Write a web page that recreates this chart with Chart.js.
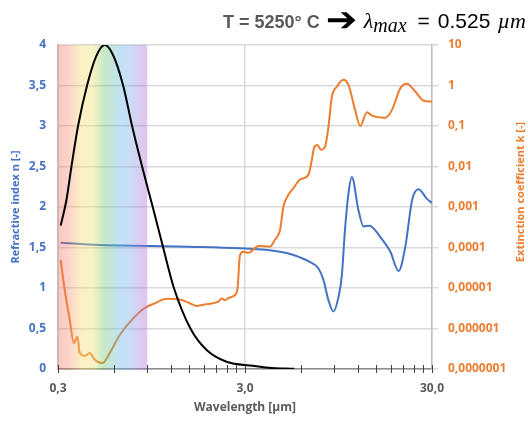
<!DOCTYPE html>
<html>
<head>
<meta charset="utf-8">
<script src="https://cdn.jsdelivr.net/npm/chart.js@4.4.1/dist/chart.umd.min.js"></script>
<style>
  body { margin: 0; background: #fff; }
  #wrap { position: relative; width: 528px; height: 421px; }
  #hdr { position: absolute; top: 4px; right: 2px; white-space: nowrap; line-height: 30px; height: 30px; }
  #hdr .t { font: bold 18px "Liberation Sans", Arial, sans-serif; color: #595959; }
  #hdr .arr { display: inline-block; width: 25px; text-align: center; transform: scale(1.45, 1.3); font: bold 26px "DejaVu Sans", sans-serif; color: #000; margin: 0 10px 0 9px; }
  #hdr .m { font: italic 22px "Liberation Serif", "DejaVu Serif", serif; color: #000; }
  #hdr .n { font: 21px "Liberation Sans", Arial, sans-serif; color: #000; }
  #hdr .eq { margin: 0 8px 0 11px; }
  #hdr .u { margin-left: 7px; }
  #hdr sub { font-size: 20px; vertical-align: -4px; line-height: 0; }
</style>
</head>
<body>
<div id="wrap">
  <canvas id="chart" width="528" height="421"></canvas>
  <div id="hdr"><span class="t">T = 5250° C</span><span class="arr">➔</span><span class="m">λ<sub>max</sub></span><span class="n eq">=</span><span class="n">0.525</span><span class="m u">µm</span></div>
</div>
<script>
// blackbody curve (scaled to the left axis)
const blackWl = [0.31, 0.333, 0.354, 0.384, 0.429, 0.48, 0.533, 0.59, 0.669, 0.747, 0.845, 0.968, 1.095, 1.25, 1.54, 1.87, 2.39, 3.31, 4.0, 5.5];
const blackVal = [1.77, 2.09, 2.5, 3.0, 3.5, 3.86, 4.0, 3.88, 3.5, 3.0, 2.5, 1.98, 1.5, 1.0, 0.49, 0.235, 0.09, 0.04, 0.015, 0.002];

// refractive index n
const nWl = [0.31, 0.5, 0.95, 1.5, 2.82, 4.25, 5.23, 6.42, 7.41, 7.88, 8.38, 8.91, 9.49, 9.88, 10.3, 10.73, 11.18, 12.13, 12.91, 13.9, 15.86, 17.95, 19.86, 21.6, 23.5, 25.4, 28.2, 30];
const nVal = [1.56, 1.53, 1.52, 1.51, 1.49, 1.46, 1.42, 1.34, 1.24, 1.10, 0.85, 0.71, 0.89, 1.15, 1.75, 2.17, 2.37, 1.96, 1.76, 1.77, 1.63, 1.45, 1.21, 1.51, 2.09, 2.22, 2.10, 2.05];

// extinction coefficient k
const kWl = [0.31, 0.326, 0.347, 0.365, 0.381, 0.392, 0.417, 0.444, 0.472, 0.519, 0.568, 0.642, 0.742, 0.873, 0.989, 1.142, 1.346, 1.52, 1.66, 1.87, 2.16, 2.25, 2.35, 2.44, 2.6, 2.73, 2.82, 2.94, 3.13, 3.47, 3.61, 4.08, 4.34, 4.62, 4.81, 5.12, 5.44, 5.92, 6.55, 6.83, 7.03, 7.32, 7.63, 8.04, 8.38, 8.74, 9.29, 10.08, 10.73, 11.64, 12.39, 13.47, 14.32, 16.87, 18.33, 20.3, 22.0, 24.4, 27.1, 30];
const kVal = [4.9e-5, 8.9e-6, 1.6e-6, 4.3e-7, 6.3e-7, 2.5e-7, 2.1e-7, 2.5e-7, 1.7e-7, 1.4e-7, 2.5e-7, 6.9e-7, 1.6e-6, 3.2e-6, 4.2e-6, 5.4e-6, 5.2e-6, 4.2e-6, 3.6e-6, 4.0e-6, 4.6e-6, 5.5e-6, 5.0e-6, 5.6e-6, 6.3e-6, 8.9e-6, 6.5e-5, 7.9e-5, 7.4e-5, 1.05e-4, 1.1e-4, 1.05e-4, 1.55e-4, 2.7e-4, 1.0e-3, 2.0e-3, 2.9e-3, 4.8e-3, 6.2e-3, 1.45e-2, 2.95e-2, 3.4e-2, 2.6e-2, 3.1e-2, 9.5e-2, 0.52, 0.93, 1.38, 1.02, 0.25, 0.10, 0.22, 0.18, 0.16, 0.25, 0.85, 1.1, 0.71, 0.42, 0.40];

// axis ticks
const xTicks = [0.3, 0.6, 0.9, 1.2, 1.5, 1.8, 2.1, 2.4, 2.7, 3, 6, 9, 12, 15, 18, 21, 24, 27, 30];
const xLabels = { 0.3: '0,3', 3: '3,0', 30: '30,0' };
const kTicks = [1e-7, 1e-6, 1e-5, 1e-4, 1e-3, 1e-2, 1e-1, 1, 10];
const kLabels = ['0,0000001', '0,000001', '0,00001', '0,0001', '0,001', '0,01', '0,1', '1', '10'];
const visibleBand = [0.3, 0.9];

const BLUE = '#4472C4', ORANGE = '#ED7D31', GREY = '#595959', GRID = '#d9d9d9';
const FONT = '"Open Sans", "Liberation Sans", sans-serif';

const toPoints = (xs, ys) => xs.map((x, i) => ({ x: x, y: ys[i] }));

// rainbow band over the visible range, drawn above n and k but under the black curve
const spectrumPlugin = {
  id: 'spectrum',
  afterDatasetDraw(chart, args) {
    if (args.index !== 2) return;
    const { ctx, chartArea, scales } = chart;
    const x0 = scales.x.getPixelForValue(visibleBand[0]);
    const x1 = scales.x.getPixelForValue(visibleBand[1]);
    const g = ctx.createLinearGradient(x0, 0, x1, 0);
    g.addColorStop(0, 'rgba(245,105,90,0.36)');
    g.addColorStop(0.1, 'rgba(245,120,95,0.34)');
    g.addColorStop(0.25, 'rgba(248,215,110,0.40)');
    g.addColorStop(0.38, 'rgba(245,225,110,0.40)');
    g.addColorStop(0.52, 'rgba(110,200,115,0.40)');
    g.addColorStop(0.7, 'rgba(110,185,235,0.42)');
    g.addColorStop(0.8, 'rgba(120,170,230,0.40)');
    g.addColorStop(0.95, 'rgba(170,120,215,0.40)');
    g.addColorStop(1, 'rgba(170,120,215,0.40)');
    ctx.save();
    ctx.fillStyle = g;
    ctx.fillRect(x0, chartArea.top, x1 - x0, chartArea.bottom - chartArea.top + 1);
    ctx.restore();
  }
};

const axisDecor = {
  id: 'axisDecor',
  afterDraw(chart) {
    const { ctx, chartArea, scales } = chart;
    ctx.save();
    // x tick marks crossing the axis line
    ctx.strokeStyle = '#404040';
    ctx.lineWidth = 1;
    xTicks.forEach(v => {
      const px = Math.round(scales.x.getPixelForValue(v)) + 0.5;
      ctx.beginPath();
      ctx.moveTo(px, chartArea.bottom - 4);
      ctx.lineTo(px, chartArea.bottom + 4);
      ctx.stroke();
    });
    // right axis title, reading bottom to top
    ctx.fillStyle = ORANGE;
    ctx.font = 'bold 11px ' + FONT;
    ctx.textAlign = 'center';
    ctx.textBaseline = 'middle';
    ctx.translate(521, 192);
    ctx.rotate(-Math.PI / 2);
    ctx.fillText('Extinction coefficient k [-]', 0, 0);
    ctx.restore();
  }
};

new Chart(document.getElementById('chart'), {
  type: 'line',
  data: {
    datasets: [
      {
        label: 'Blackbody',
        data: toPoints(blackWl, blackVal),
        borderColor: '#000000',
        borderWidth: 2,
        yAxisID: 'y',
        order: 1
      },
      {
        label: 'n',
        data: toPoints(nWl, nVal),
        borderColor: BLUE,
        borderWidth: 2,
        yAxisID: 'y',
        order: 3
      },
      {
        label: 'k',
        data: toPoints(kWl, kVal),
        borderColor: ORANGE,
        borderWidth: 2,
        yAxisID: 'y1',
        order: 2
      }
    ]
  },
  options: {
    responsive: false,
    animation: false,
    layout: { padding: { top: 45 } },
    elements: {
      point: { radius: 0 },
      line: { cubicInterpolationMode: 'monotone', fill: false }
    },
    plugins: { legend: { display: false }, tooltip: { enabled: false } },
    scales: {
      x: {
        type: 'logarithmic',
        min: 0.3,
        max: 30,
        afterBuildTicks: s => { s.ticks = xTicks.map(v => ({ value: v })); },
        afterFit: s => { s.height = 52; },
        grid: {
          color: c => (c.tick && xLabels[c.tick.value]) ? GRID : 'rgba(0,0,0,0)',
          lineWidth: 1.5,
          drawTicks: false
        },
        border: { color: '#8c8c8c', width: 1.5 },
        ticks: {
          autoSkip: false,
          maxRotation: 0,
          padding: 12,
          color: GREY,
          font: { family: FONT, size: 12, weight: 'bold' },
          callback: v => xLabels[v] || ''
        },
        title: {
          display: true,
          text: 'Wavelength [µm]',
          color: GREY,
          font: { family: FONT, size: 12, weight: 'bold' },
          padding: { top: 0, bottom: 6 }
        }
      },
      y: {
        position: 'left',
        min: 0,
        max: 4,
        afterFit: s => { s.width = 58; },
        grid: { color: GRID, lineWidth: 1.5, drawTicks: false },
        border: { color: '#bfbfbf', width: 1.5 },
        ticks: {
          stepSize: 0.5,
          padding: 12,
          color: BLUE,
          font: { family: FONT, size: 12, weight: 'bold' },
          callback: v => String(v).replace('.', ',')
        },
        title: {
          display: true,
          text: 'Refractive index n [-]',
          color: BLUE,
          font: { family: FONT, size: 11, weight: 'bold' },
          padding: { top: 9, bottom: 0 }
        }
      },
      y1: {
        type: 'logarithmic',
        position: 'right',
        min: 1e-7,
        max: 10,
        afterBuildTicks: s => { s.ticks = kTicks.map(v => ({ value: v })); },
        afterFit: s => { s.width = 96; },
        grid: { drawOnChartArea: false, color: GRID, lineWidth: 1.5, tickLength: 6 },
        border: { color: '#bfbfbf', width: 1.5 },
        ticks: {
          autoSkip: false,
          padding: 10,
          color: ORANGE,
          font: { family: FONT, size: 12, weight: 'bold' },
          callback: (v, i) => kLabels[i]
        }
      }
    }
  },
  plugins: [spectrumPlugin, axisDecor]
});
</script>
</body>
</html>
